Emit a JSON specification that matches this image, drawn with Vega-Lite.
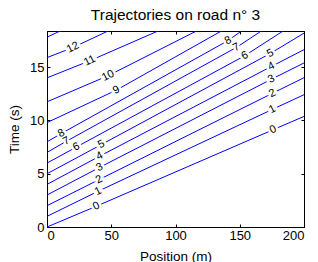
{
  "$schema": "https://vega.github.io/schema/vega-lite/v6.json",
  "width": 257,
  "height": 196,
  "autosize": {"type": "none"},
  "padding": {"left": 47, "top": 31, "right": 14, "bottom": 35},
  "background": "white",
  "title": {
    "text": "Trajectories on road n° 3",
    "font": "Liberation Sans",
    "fontSize": 15.5,
    "fontWeight": "normal",
    "color": "black",
    "anchor": "middle",
    "frame": "group",
    "baseline": "alphabetic",
    "offset": -5
  },
  "config": {
    "view": {"stroke": "black", "strokeWidth": 1},
    "axis": {
      "domainColor": "black",
      "tickColor": "black",
      "labelColor": "black",
      "titleColor": "black",
      "labelFont": "Liberation Sans",
      "titleFont": "Liberation Sans",
      "labelFontSize": 13,
      "titleFontSize": 13.5,
      "titleFontWeight": "normal",
      "grid": false,
      "tickSize": -3
    }
  },
  "datasets": {
    "lines": [
      {"id": 0, "x": 0, "t": 0}, {"id": 0, "x": 38.4, "t": 1.95}, {"id": 0, "x": 175.9, "t": 9.13}, {"id": 0, "x": 200, "t": 10.38},
      {"id": 1, "x": 0, "t": 1.0}, {"id": 1, "x": 39.7, "t": 3.35}, {"id": 1, "x": 175.4, "t": 11.04}, {"id": 1, "x": 200, "t": 12.42},
      {"id": 2, "x": 0, "t": 2.0}, {"id": 2, "x": 40.5, "t": 4.45}, {"id": 2, "x": 175.4, "t": 12.55}, {"id": 2, "x": 200, "t": 14.02},
      {"id": 3, "x": 0, "t": 3.0}, {"id": 3, "x": 41.0, "t": 5.6}, {"id": 3, "x": 174.6, "t": 13.87}, {"id": 3, "x": 200, "t": 15.4},
      {"id": 4, "x": 0, "t": 4.0}, {"id": 4, "x": 41.0, "t": 6.65}, {"id": 4, "x": 174.6, "t": 15.07}, {"id": 4, "x": 200, "t": 16.65},
      {"id": 5, "x": 0, "t": 5.0}, {"id": 5, "x": 42.3, "t": 7.74}, {"id": 5, "x": 173.9, "t": 16.3}, {"id": 5, "x": 200, "t": 18.2},
      {"id": 6, "x": 0, "t": 6.0}, {"id": 6, "x": 22.9, "t": 7.51}, {"id": 6, "x": 153.9, "t": 16.08}, {"id": 6, "x": 183.7, "t": 18.4}, {"id": 6, "x": 200, "t": 19.6},
      {"id": 7, "x": 0, "t": 7.0}, {"id": 7, "x": 15.1, "t": 8.05}, {"id": 7, "x": 147.4, "t": 16.86}, {"id": 7, "x": 166.8, "t": 18.4}, {"id": 7, "x": 200, "t": 20.9},
      {"id": 8, "x": 0, "t": 8.0}, {"id": 8, "x": 11.2, "t": 8.78}, {"id": 8, "x": 140.9, "t": 17.5}, {"id": 8, "x": 151.3, "t": 18.4}, {"id": 8, "x": 200, "t": 21.7},
      {"id": 9, "x": 0, "t": 9.8}, {"id": 9, "x": 54.0, "t": 12.85}, {"id": 9, "x": 135.7, "t": 18.4}, {"id": 9, "x": 160, "t": 20.1},
      {"id": 10, "x": 0, "t": 11.75}, {"id": 10, "x": 47.5, "t": 14.2}, {"id": 10, "x": 116.3, "t": 18.4}, {"id": 10, "x": 140, "t": 19.8},
      {"id": 11, "x": 0, "t": 14.0}, {"id": 11, "x": 33.2, "t": 15.6}, {"id": 11, "x": 86.4, "t": 18.4}, {"id": 11, "x": 110, "t": 19.6},
      {"id": 12, "x": 0, "t": 15.9}, {"id": 12, "x": 20.2, "t": 16.85}, {"id": 12, "x": 47.5, "t": 18.4}, {"id": 12, "x": 70, "t": 19.5},
      {"id": 13, "x": 0, "t": 17.82}, {"id": 13, "x": 11.2, "t": 18.45}, {"id": 13, "x": 30, "t": 19.4}
    ],
    "labels": [
      {"label": "0", "x": 38.4, "t": 1.95}, {"label": "0", "x": 175.9, "t": 9.13},
      {"label": "1", "x": 39.7, "t": 3.35}, {"label": "1", "x": 175.4, "t": 11.04},
      {"label": "2", "x": 40.5, "t": 4.45}, {"label": "2", "x": 175.4, "t": 12.55},
      {"label": "3", "x": 41.0, "t": 5.6}, {"label": "3", "x": 174.6, "t": 13.87},
      {"label": "4", "x": 41.0, "t": 6.65}, {"label": "4", "x": 174.6, "t": 15.07},
      {"label": "5", "x": 42.3, "t": 7.74}, {"label": "5", "x": 173.9, "t": 16.3},
      {"label": "6", "x": 22.9, "t": 7.51}, {"label": "6", "x": 153.9, "t": 16.08},
      {"label": "7", "x": 15.1, "t": 8.05}, {"label": "7", "x": 147.4, "t": 16.86},
      {"label": "8", "x": 11.2, "t": 8.78}, {"label": "8", "x": 140.9, "t": 17.5},
      {"label": "9", "x": 54.0, "t": 12.85},
      {"label": "10", "x": 47.5, "t": 14.2},
      {"label": "11", "x": 33.2, "t": 15.6},
      {"label": "12", "x": 20.2, "t": 16.85}
    ]
  },
  "layer": [
    {
      "data": {"name": "lines"},
      "mark": {"type": "line", "clip": true, "color": "#0000ff", "strokeWidth": 1},
      "encoding": {
        "x": {"field": "x", "type": "quantitative", "scale": {"domain": [0, 200], "nice": false},
          "axis": {"orient": "bottom", "values": [0, 50, 100, 150, 200], "title": "Position (m)", "labelPadding": 5, "titlePadding": 7}},
        "y": {"field": "t", "type": "quantitative", "scale": {"domain": [0, 18.4], "nice": false, "zero": false},
          "axis": {"orient": "left", "values": [0, 5, 10, 15], "title": "Time (s)", "labelPadding": 6, "titlePadding": 8}},
        "detail": {"field": "id", "type": "nominal"},
        "order": {"field": "x", "type": "quantitative"}
      }
    },
    {
      "data": {"name": "labels"},
      "mark": {"type": "text", "font": "Liberation Sans", "fontSize": 11, "angle": -27, "stroke": "white", "strokeWidth": 5, "fill": "white", "align": "center", "baseline": "middle"},
      "encoding": {
        "x": {"field": "x", "type": "quantitative",
          "axis": {"orient": "top", "values": [0, 50, 100, 150, 200], "labels": false, "title": null}},
        "y": {"field": "t", "type": "quantitative",
          "axis": {"orient": "right", "values": [0, 5, 10, 15], "labels": false, "title": null}},
        "text": {"field": "label", "type": "nominal"}
      }
    },
    {
      "data": {"name": "labels"},
      "mark": {"type": "text", "font": "Liberation Sans", "fontSize": 11, "angle": -27, "fill": "black", "align": "center", "baseline": "middle"},
      "encoding": {
        "x": {"field": "x", "type": "quantitative", "axis": null},
        "y": {"field": "t", "type": "quantitative", "axis": null},
        "text": {"field": "label", "type": "nominal"}
      }
    }
  ],
  "resolve": {"axis": {"x": "independent", "y": "independent"}}
}
